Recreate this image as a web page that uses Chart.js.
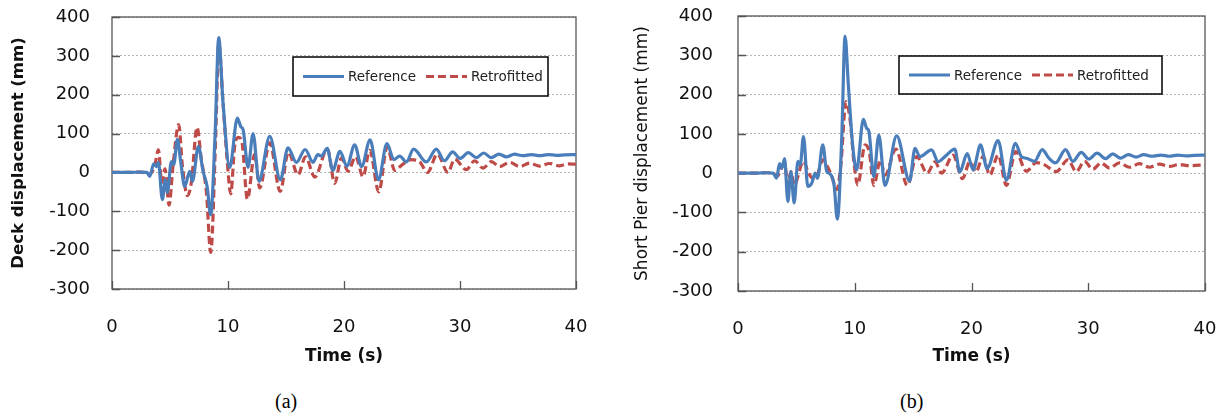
<!DOCTYPE html>
<html>
<head>
<meta charset="utf-8">
<script src="https://cdn.jsdelivr.net/npm/chart.js@4/dist/chart.umd.min.js"></script>
<style>
  html, body { margin: 0; padding: 0; background: #fff; }
  #wrap { position: relative; width: 1226px; height: 417px; overflow: hidden; }
  .panel { position: absolute; top: 0; width: 613px; height: 380px; }
  .cap { position: absolute; top: 390px; font-family: "Liberation Serif", serif; font-size: 20px; color: #000; }
</style>
</head>
<body>
<div id="wrap">
  <div class="panel" style="left:0"><canvas id="ca" width="613" height="380"></canvas></div>
  <div class="panel" style="left:613px"><canvas id="cb" width="613" height="380"></canvas></div>
  <div class="cap" style="left:275px">(a)</div>
  <div class="cap" style="left:900px">(b)</div>
</div>
<script>
// Axis ticks
const timeTicks = [0, 10, 20, 30, 40];
const dispTicks = [-300, -200, -100, 0, 100, 200, 300, 400];
const seriesNames = ['Reference', 'Retrofitted'];

// (a) Deck displacement, reference bridge
const deckRefT = [0, 1.5, 2.5, 3.0, 3.25, 3.6, 3.83, 4.0, 4.34, 4.6, 4.77, 5.12, 5.32, 5.64, 5.92, 6.27, 6.7, 6.93, 7.45, 7.85, 8.2, 8.51, 8.89, 9.2, 9.57, 10.15, 10.81, 11.1, 11.3, 11.73, 12.16, 12.67, 13.6, 14.51, 15.17, 15.9, 16.65, 17.33, 17.75, 18.05, 18.55, 19.03, 19.65, 20.25, 20.92, 21.52, 22.25, 22.97, 23.7, 24.3, 24.8, 25.38, 26.0, 27.1, 27.96, 28.65, 29.37, 30.0, 30.72, 31.4, 32.04, 32.7, 33.36, 34.0, 34.7, 35.43, 36.15, 36.87, 37.6, 38.3, 39.02, 40];
const deckRefV = [0, 0, 1, 0, -10, 22, 15, 26, -70, -19, -52, 28, 20, 85, 28, -36, 3, -23, 67, 3, -36, -109, 100, 347, 180, 13, 140, 118, 110, 13, 100, -23, 93, -19, 63, 26, 59, 26, 46, 42, 62, 5, 54, 16, 71, 15, 84, -19, 74, 33, 42, 27, 60, 27, 60, 30, 53, 36, 51, 38, 50, 38, 47, 40, 47, 43, 46, 43, 46, 44, 45, 46];

// (a) Deck displacement, retrofitted bridge
const deckRetT = [0, 1.5, 2.5, 3.2, 3.68, 4.0, 4.29, 4.57, 4.92, 5.26, 5.75, 6.07, 6.5, 6.84, 7.33, 7.7, 8.14, 8.51, 8.94, 9.2, 9.57, 9.92, 10.24, 10.58, 10.92, 11.21, 11.67, 12.3, 12.73, 13.6, 14.5, 15.2, 16.04, 16.68, 17.48, 18.57, 19.2, 19.78, 20.35, 21.01, 21.64, 22.22, 23.0, 23.72, 24.37, 24.95, 25.75, 26.5, 27.2, 28.05, 28.96, 29.54, 30.54, 31.26, 31.98, 32.7, 33.42, 34.28, 35.14, 36.0, 36.87, 37.73, 38.59, 39.31, 40];
const deckRetV = [0, 0, 1, -5, 17, 58, -26, 9, -84, 17, 123, 17, -60, -26, 116, 34, -51, -206, 94, 334, 180, 34, -55, 69, 90, 77, -69, 47, -40, 76, -49, 52, -6, 40, -12, 61, -28, 37, 3, 41, -11, 57, -50, 66, 5, 18, 33, 28, 0, 47, 0, 34, 7, 30, 11, 28, 15, 26, 15, 24, 16, 23, 17, 22, 21];

// (b) Short pier displacement, reference bridge
const pierRefT = [0, 1.5, 2.5, 3.0, 3.3, 3.56, 3.76, 3.99, 4.27, 4.53, 4.81, 5.13, 5.33, 5.61, 5.98, 6.32, 6.61, 6.81, 7.26, 7.6, 7.89, 8.23, 8.51, 8.89, 9.17, 9.46, 9.83, 10.16, 10.74, 11.02, 11.2, 11.63, 12.06, 12.59, 13.59, 14.7, 15.16, 15.58, 16.58, 17.15, 17.72, 18.57, 19.0, 19.63, 20.14, 20.77, 21.34, 22.28, 22.99, 23.76, 24.27, 24.7, 25.4, 26.06, 26.63, 27.2, 28.06, 28.68, 29.4, 30.05, 30.76, 31.48, 32.1, 32.76, 33.44, 34.1, 34.75, 35.46, 36.23, 36.95, 37.66, 38.37, 39.08, 40];
const pierRefV = [0, 0, 1, 0, -13, 24, 13, 37, -72, 4, -76, 30, 21, 93, -34, -25, 0, -13, 72, 4, -2, -30, -117, 93, 349, 220, 68, 8, 137, 114, 108, -9, 97, -31, 95, -20, 63, 42, 59, 29, 42, 61, 3, 50, 8, 72, 12, 83, -18, 76, 42, 38, 30, 60, 38, 26, 60, 30, 53, 36, 51, 37, 49, 38, 47, 41, 47, 43, 46, 43, 46, 44, 45, 46];

// (b) Short pier displacement, retrofitted bridge
const pierRetT = [0, 1.5, 2.5, 3.0, 3.33, 3.99, 4.27, 4.53, 4.81, 5.61, 6.04, 6.41, 6.75, 7.26, 7.66, 8.03, 8.46, 8.8, 9.25, 9.6, 9.94, 10.26, 10.88, 11.25, 11.63, 12.2, 12.59, 13.53, 14.5, 15.3, 16.21, 16.87, 17.44, 18.43, 19.23, 19.86, 20.37, 21.0, 21.57, 22.28, 22.99, 23.79, 24.7, 25.55, 26.26, 27.26, 28.26, 28.97, 29.68, 30.39, 31.1, 31.82, 32.67, 33.53, 34.38, 35.24, 36.09, 36.95, 37.8, 38.66, 40];
const pierRetV = [0, 0, 1, 0, -8, 25, -30, 4, -30, 30, 0, -13, -8, 34, 17, -8, -42, 17, 182, 136, 25, -30, 72, 52, -31, 33, -5, 61, -31, 42, 0, 29, 0, 46, -14, 29, 3, 42, -5, 46, -31, 55, 5, 27, 21, 4, 34, 4, 30, 10, 26, 13, 26, 15, 24, 15, 23, 17, 22, 19, 21];

const FONT = '"DejaVu Sans", Verdana, sans-serif';
const BLUE = '#4a7ebb';
const RED = '#be4b48';

const toPoints = (t, v) => t.map((x, i) => ({ x: x, y: v[i] }));

// Plot frame, inward tick marks and boxed legend
const framePlugin = {
  id: 'framePlugin',
  beforeDatasetsDraw(chart) {
    const { ctx, chartArea: a, scales } = chart;
    ctx.save();
    ctx.strokeStyle = '#555';
    ctx.lineWidth = 1.3;
    ctx.beginPath();
    dispTicks.forEach(v => {
      const y = Math.round(scales.y.getPixelForValue(v)) + 0.5;
      ctx.moveTo(a.left, y); ctx.lineTo(a.left + 8, y);
    });
    timeTicks.forEach(v => {
      const x = Math.round(scales.x.getPixelForValue(v)) + 0.5;
      ctx.moveTo(x, a.bottom); ctx.lineTo(x, a.bottom - 8);
    });
    ctx.stroke();
    ctx.strokeRect(a.left, a.top, a.right - a.left, a.bottom - a.top);
    ctx.restore();
  },
  afterDraw(chart, args, opts) {
    const { ctx } = chart;
    const b = opts.box;
    ctx.save();
    ctx.fillStyle = '#fff';
    ctx.fillRect(b.x, b.y, b.w, b.h);
    ctx.strokeStyle = '#000';
    ctx.lineWidth = 1.5;
    ctx.strokeRect(b.x, b.y, b.w, b.h);
    ctx.font = '13.5px ' + FONT;
    ctx.textBaseline = 'middle';
    ctx.fillStyle = '#222';
    const cy = b.y + b.h / 2;
    let x = b.x + 10;
    chart.data.datasets.forEach(ds => {
      ctx.strokeStyle = ds.borderColor;
      ctx.lineWidth = ds.borderWidth;
      ctx.setLineDash(ds.borderDash || []);
      ctx.beginPath();
      ctx.moveTo(x, cy); ctx.lineTo(x + 41, cy);
      ctx.stroke();
      ctx.setLineDash([]);
      x += 45;
      ctx.fillText(ds.label, x, cy + 1);
      x += ctx.measureText(ds.label).width + 10;
    });
    ctx.restore();
  }
};

function makeChart(id, refT, refV, retT, retV, yTitle, L) {
  return new Chart(document.getElementById(id), {
    type: 'line',
    data: {
      datasets: [
        { label: seriesNames[0], data: toPoints(refT, refV), borderColor: BLUE, borderWidth: 3.2,
          pointRadius: 0, cubicInterpolationMode: 'monotone', fill: false },
        { label: seriesNames[1], data: toPoints(retT, retV), borderColor: RED, borderWidth: 3.2,
          borderDash: [8, 4], pointRadius: 0, cubicInterpolationMode: 'monotone', fill: false }
      ]
    },
    options: {
      responsive: false,
      animation: false,
      events: [],
      layout: { padding: { top: L.top, right: L.right, left: 0, bottom: 0 } },
      plugins: {
        legend: { display: false },
        tooltip: { enabled: false },
        framePlugin: { box: L.box }
      },
      scales: {
        x: {
          type: 'linear', min: 0, max: 40,
          afterBuildTicks(s) { s.ticks = timeTicks.map(v => ({ value: v })); },
          ticks: { padding: L.xTickPad, color: '#111', font: { family: FONT, size: 18 }, maxRotation: 0 },
          grid: { display: false, drawTicks: false },
          border: { display: false },
          title: { display: true, text: 'Time (s)', color: '#111',
                   font: { family: FONT, size: 17, weight: 'bold' }, padding: { top: 0, bottom: L.xTitleBottom } },
          afterFit(s) { s.height = L.xAxisH; s.paddingLeft = 0; s.paddingRight = 0; }
        },
        y: {
          type: 'linear', min: -300, max: 400,
          afterBuildTicks(s) { s.ticks = dispTicks.map(v => ({ value: v })); },
          ticks: { padding: L.yTickPad, color: '#111', font: { family: FONT, size: 18 } },
          grid: { color: '#b4b4b4', lineWidth: 1, drawTicks: false },
          border: { display: false, dash: [2, 2] },
          title: { display: true, text: yTitle, color: '#111',
                   font: { family: FONT, size: L.yTitleSize, weight: L.yTitleWeight }, padding: { top: L.yTitlePad, bottom: 0 } },
          afterFit(s) { s.width = L.yAxisW; s.paddingTop = 0; s.paddingBottom = 0; }
        }
      }
    },
    plugins: [framePlugin]
  });
}

makeChart('ca', deckRefT, deckRefV, deckRetT, deckRetV, 'Deck displacement (mm)', {
  top: 17, right: 37, xAxisH: 91, yAxisW: 112, xTickPad: 28, xTitleBottom: 13,
  yTickPad: 22, yTitlePad: 9, yTitleSize: 16.5, yTitleWeight: 'bold',
  box: { x: 293, y: 57, w: 255, h: 39 }
});
makeChart('cb', pierRefT, pierRefV, pierRetT, pierRetV, 'Short Pier displacement (mm)', {
  top: 16, right: 21, xAxisH: 89, yAxisW: 125, xTickPad: 28, xTitleBottom: 13,
  yTickPad: 25, yTitlePad: 19, yTitleSize: 17, yTitleWeight: 'normal',
  box: { x: 286, y: 56, w: 263, h: 38 }
});
</script>
</body>
</html>
